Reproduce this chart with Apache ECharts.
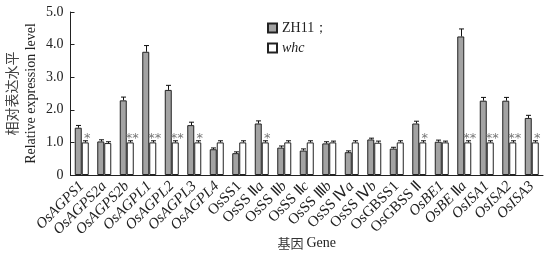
<!DOCTYPE html>
<html>
<head>
<meta charset="utf-8">
<script src="https://cdn.jsdelivr.net/npm/echarts@6/dist/echarts.min.js"></script>
<style>
  html, body { margin: 0; padding: 0; background: #fff; }
  #chart { width: 556px; height: 254px; }
</style>
</head>
<body>
<div id="chart"></div>
<script>
// 基因名 (rich text: i = italic, n = normal)
const genes = [
  '{i|OsAGPS1}', '{i|OsAGPS2a}', '{i|OsAGPS2b}', '{i|OsAGPL1}', '{i|OsAGPL2}',
  '{i|OsAGPL3}', '{i|OsAGPL4}', '{n|OsSS1}', '{n|OsSS Ⅱ}{i|a}', '{n|OsSS Ⅱ}{i|b}',
  '{n|OsSS Ⅱ}{i|c}', '{n|OsSS Ⅲ}{i|b}', '{n|OsSS Ⅳ}{i|a}', '{n|OsSS Ⅳ}{i|b}', '{n|OsGBSS1}',
  '{n|OsGBSS Ⅱ}', '{i|OsBE1}', '{i|OsBE} {n|Ⅱ}{i|a}', '{i|OsISA1}', '{i|OsISA2}', '{i|OsISA3}'
];
const zh11 = [1.45, 1.03, 2.29, 3.78, 2.61, 1.53, 0.79, 0.67, 1.58, 0.84, 0.75, 0.97, 0.7, 1.09, 0.81, 1.58, 1.02, 4.25, 2.28, 2.28, 1.75];
const zh11Err = [0.07, 0.05, 0.1, 0.19, 0.14, 0.09, 0.04, 0.04, 0.08, 0.05, 0.05, 0.05, 0.04, 0.04, 0.04, 0.07, 0.05, 0.23, 0.1, 0.1, 0.08];
const whc = [1.0, 0.98, 1.0, 1.0, 1.0, 1.0, 1.0, 1.0, 1.0, 1.0, 1.0, 1.0, 1.0, 0.99, 1.0, 1.0, 1.0, 1.0, 1.0, 1.0, 1.0];
const whcErr = [0.05, 0.04, 0.05, 0.05, 0.05, 0.05, 0.05, 0.05, 0.05, 0.05, 0.05, 0.04, 0.05, 0.05, 0.05, 0.05, 0.04, 0.05, 0.05, 0.05, 0.05];
const sig = ['*', '', '**', '**', '**', '*', '', '', '*', '', '', '', '', '', '', '*', '', '**', '**', '**', '*'];
const yTicks = [0, 1, 2, 3, 4, 5];

const serif = 'Liberation Serif, serif';
const cjk = 'Noto Sans CJK SC, sans-serif';
const BAR_W = 7;

function errSeries(vals, errs, offset) {
  return {
    type: 'custom',
    z: 5,
    silent: true,
    data: vals.map((v, i) => [i, v, errs[i]]),
    renderItem: (params, api) => {
      const i = api.value(0), v = api.value(1), e = api.value(2);
      const top = api.coord([i, v + e]);
      const mid = api.coord([i, v]);
      const x = Math.round(top[0] + offset) + 0.5;
      return {
        type: 'group',
        children: [
          { type: 'line', shape: { x1: x, y1: top[1], x2: x, y2: mid[1] }, style: { stroke: '#111', lineWidth: 1 } },
          { type: 'line', shape: { x1: x - 2.5, y1: top[1], x2: x + 2.5, y2: top[1] }, style: { stroke: '#111', lineWidth: 1 } }
        ]
      };
    }
  };
}

const option = {
  animation: false,
  textStyle: { fontFamily: serif },
  grid: { left: 70.5, right: 13, top: 12, bottom: 79, containLabel: false, outerBoundsMode: 'none' },
  legend: {
    orient: 'vertical',
    left: 262,
    top: 16,
    itemWidth: 9,
    itemHeight: 9,
    itemGap: 6,
    icon: 'rect',
    data: ['ZH11', 'whc'],
    formatter: (n) => n === 'ZH11' ? '{n|ZH11；}' : '{i|whc}',
    textStyle: {
      fontFamily: serif,
      color: '#222',
      rich: {
        n: { fontFamily: serif, fontSize: 14, color: '#222' },
        i: { fontFamily: serif, fontSize: 14, fontStyle: 'italic', color: '#222' }
      }
    }
  },
  xAxis: {
    type: 'category',
    data: genes,
    name: '{c|基因} {e|Gene}',
    nameLocation: 'middle',
    nameGap: 61,
    nameMoveOverlap: false,
    nameTextStyle: {
      rich: {
        c: { fontFamily: cjk, fontSize: 13, color: '#333' },
        e: { fontFamily: serif, fontSize: 14, color: '#222' }
      }
    },
    axisLine: { lineStyle: { color: '#222', width: 1 } },
    axisTick: { show: false },
    axisLabel: {
      interval: 0,
      rotate: 45,
      margin: 9,
      color: '#222',
      fontFamily: serif,
      rich: {
        i: { fontFamily: serif, fontSize: 15, fontStyle: 'italic', color: '#222' },
        n: { fontFamily: serif, fontSize: 15, color: '#222' }
      }
    }
  },
  yAxis: {
    type: 'value',
    min: 0,
    max: 5,
    interval: 1,
    name: '{c|相对表达水平}\n{e|Relative expression level}',
    nameLocation: 'middle',
    nameRotate: 90,
    nameGap: 29,
    nameMoveOverlap: false,
    nameTextStyle: {
      rich: {
        c: { fontFamily: cjk, fontSize: 14, color: '#444', lineHeight: 20 },
        e: { fontFamily: serif, fontSize: 14, color: '#222', lineHeight: 20 }
      }
    },
    axisLine: { show: true, lineStyle: { color: '#222', width: 1 } },
    axisTick: { show: true, inside: true, length: 4, lineStyle: { color: '#222' } },
    splitLine: { show: false },
    axisLabel: {
      margin: 7,
      color: '#222',
      fontFamily: serif,
      fontSize: 14,
      formatter: (v) => yTicks.indexOf(v) >= 0 ? (v === 0 ? '0' : v.toFixed(1)) : ''
    }
  },
  series: [
    {
      name: 'ZH11',
      type: 'bar',
      barWidth: BAR_W,
      barGap: '0%',
      data: zh11,
      itemStyle: { color: '#a3a3a3', borderColor: '#222', borderWidth: 1 }
    },
    {
      name: 'whc',
      type: 'bar',
      barWidth: BAR_W,
      barGap: '0%',
      data: whc,
      itemStyle: { color: '#fff', borderColor: '#222', borderWidth: 1 },
      label: {
        show: true,
        position: 'top',
        distance: 1,
        offset: [2, 4],
        color: '#777',
        fontFamily: 'DejaVu Sans, sans-serif',
        fontSize: 13,
        formatter: (p) => sig[p.dataIndex]
      }
    },
    errSeries(zh11, zh11Err, -BAR_W / 2),
    errSeries(whc, whcErr, BAR_W / 2)
  ]
};

const myChart = echarts.init(document.getElementById('chart'));
myChart.setOption(option);
</script>
</body>
</html>
